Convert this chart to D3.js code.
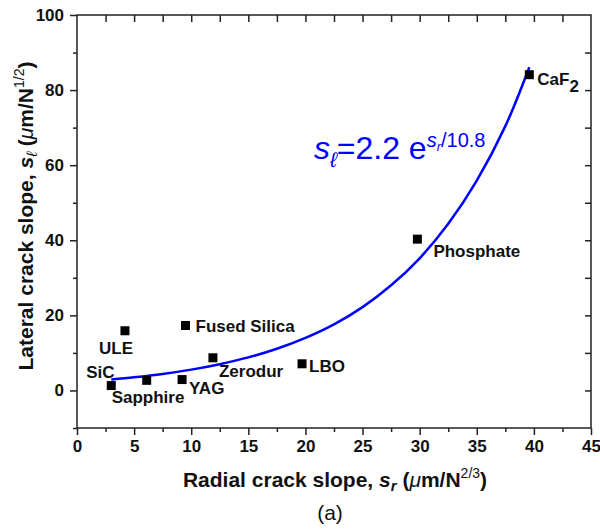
<!DOCTYPE html>
<html><head><meta charset="utf-8">
<script src="https://cdn.jsdelivr.net/npm/d3@7"></script>
<style>
body{margin:0;background:#fff;}
svg{font-family:"Liberation Sans",Arial,sans-serif;}
</style></head>
<body><div id="chart"></div>
<script>
// ---- data ----
const materials = ["SiC","Sapphire","YAG","ULE","Fused Silica","Zerodur","LBO","Phosphate","CaF2"];
const radialSlope = [3.0, 6.1, 9.2, 4.2, 9.5, 11.9, 19.7, 29.8, 39.6];
const lateralSlope = [1.3, 2.7, 2.9, 15.9, 17.3, 8.7, 7.1, 40.3, 84.1];
// fit curve points
const fitX = [3, 5, 7.5, 10, 12.5, 15, 17.5, 20, 22.5, 25, 27.5, 30, 32.5, 35, 37.5, 39.6];
const fitY = [2.9, 3.5, 4.4, 5.55, 7.0, 8.8, 11.1, 14.0, 17.6, 22.2, 28.0, 35.2, 44.4, 55.9, 70.4, 86.1];
const xTicks = [0,5,10,15,20,25,30,35,40,45];
const yTicks = [0,20,40,60,80,100];
// label placement (pixel offsets from point)
const labelDx = [-25,-35,7,-26,10,6,7,16,8];
const labelDy = [-8,23,14,23,6,19,8,18,10];

const W=600,H=530;
const m={l:77,t:15,r:9,b:102};
const pw=W-m.l-m.r, ph=H-m.t-m.b;
const svg=d3.select("#chart").append("svg").attr("width",W).attr("height",H);
const g=svg.append("g").attr("transform",`translate(${m.l},${m.t})`);
const x=d3.scaleLinear().domain([0,45]).range([0,pw]);
const y=d3.scaleLinear().domain([-10,100]).range([ph,0]);
const axCol="#222";

function styleAxis(sel){
  sel.select(".domain").remove();
  sel.selectAll("line").attr("stroke",axCol).attr("stroke-width",1.5);
}
const xMinor=d3.range(2.5,45,5), yMinor=[-10,10,30,50,70,90];
// bottom
g.append("g").attr("transform",`translate(0,${ph})`)
 .call(d3.axisBottom(x).tickValues(xMinor).tickSize(4).tickFormat(""))
 .call(styleAxis);
g.append("g").attr("transform",`translate(0,${ph})`)
 .call(d3.axisBottom(x).tickValues(xTicks).tickSize(7).tickPadding(5).tickFormat(d3.format("d")))
 .call(styleAxis)
 .selectAll("text").attr("font-size",17).attr("font-weight","bold").attr("fill","#111")
 .attr("font-family","'Liberation Sans',Arial,sans-serif");
// left
g.append("g")
 .call(d3.axisLeft(y).tickValues(yMinor).tickSize(4).tickFormat(""))
 .call(styleAxis);
g.append("g")
 .call(d3.axisLeft(y).tickValues(yTicks).tickSize(7).tickPadding(6).tickFormat(d3.format("d")))
 .call(styleAxis)
 .selectAll("text").attr("font-size",17).attr("font-weight","bold").attr("fill","#111")
 .attr("font-family","'Liberation Sans',Arial,sans-serif");
// top (inward)
g.append("g")
 .call(d3.axisBottom(x).tickValues(d3.range(2.5,45,2.5)).tickSize(7).tickFormat(""))
 .call(styleAxis);
// right (inward)
g.append("g").attr("transform",`translate(${pw},0)`)
 .call(d3.axisLeft(y).tickValues(d3.range(0,100,10)).tickSize(6).tickFormat(""))
 .call(styleAxis);
// frame
g.append("rect").attr("width",pw).attr("height",ph).attr("fill","none")
 .attr("stroke",axCol).attr("stroke-width",1.5);

// fit curve
const fitPts=fitX.map((v,i)=>[v,fitY[i]]);
g.append("path").datum(fitPts)
 .attr("d",d3.line().x(d=>x(d[0])).y(d=>y(d[1])).curve(d3.curveCatmullRom))
 .attr("fill","none").attr("stroke","#0000ff").attr("stroke-width",2.5);

// points
const pts=materials.map((n,i)=>({n,x:radialSlope[i],y:lateralSlope[i],dx:labelDx[i],dy:labelDy[i]}));
const sq=9;
g.selectAll("rect.pt").data(pts).enter().append("rect").attr("class","pt")
 .attr("x",d=>x(d.x)-sq/2).attr("y",d=>y(d.y)-sq/2).attr("width",sq).attr("height",sq).attr("fill","#000");
const lab=g.selectAll("text.lab").data(pts).enter().append("text").attr("class","lab")
 .attr("x",d=>x(d.x)+d.dx).attr("y",d=>y(d.y)+d.dy)
 .attr("font-size",17).attr("font-weight","bold").attr("fill","#111");
lab.each(function(d){
  const t=d3.select(this);
  if(d.n==="CaF2"){
    t.append("tspan").text("CaF");
    t.append("tspan").attr("dy",7).text("2");
  } else t.text(d.n);
});

// equation
const eq=svg.append("text").attr("x",314).attr("y",159).attr("fill","#0000ff").attr("font-size",32);
eq.append("tspan").attr("font-style","italic").text("s");
eq.append("tspan").attr("font-style","italic").attr("font-size",21).attr("dy",8).text("ℓ");
eq.append("tspan").attr("dy",-8).text("=2.2 e");
eq.append("tspan").attr("font-style","italic").attr("font-size",20).attr("dy",-12).text("s");
eq.append("tspan").attr("font-style","italic").attr("font-size",13).attr("dy",4).text("r");
eq.append("tspan").attr("font-size",20).attr("dy",-4).text("/10.8");

// x title
const xt=svg.append("text").attr("x",335).attr("y",487).attr("text-anchor","middle")
 .attr("font-size",21).attr("font-weight","bold").attr("fill","#111");
xt.append("tspan").text("Radial crack slope, ");
xt.append("tspan").attr("font-style","italic").text("s");
xt.append("tspan").attr("font-style","italic").attr("font-size",15).attr("dy",4).text("r");
xt.append("tspan").attr("dy",-4).text(" (");
xt.append("tspan").attr("font-style","italic").attr("font-weight","normal").text("μ");
xt.append("tspan").text("m/N");
xt.append("tspan").attr("font-size",14).attr("font-weight","normal").attr("dy",-9).text("2/3");
xt.append("tspan").attr("dy",9).text(")");

// y title
const yt=svg.append("text").attr("transform",`translate(33,216) rotate(-90)`).attr("text-anchor","middle")
 .attr("font-size",21).attr("font-weight","bold").attr("fill","#111");
yt.append("tspan").text("Lateral crack slope, ");
yt.append("tspan").attr("font-style","italic").text("s");
yt.append("tspan").attr("font-style","italic").attr("font-weight","normal").attr("font-size",15).attr("dy",4).text("ℓ");
yt.append("tspan").attr("dy",-4).text(" (");
yt.append("tspan").attr("font-style","italic").attr("font-weight","normal").text("μ");
yt.append("tspan").text("m/N");
yt.append("tspan").attr("font-size",14).attr("font-weight","normal").attr("dy",-9).text("1/2");
yt.append("tspan").attr("dy",9).text(")");

// caption
svg.append("text").attr("x",330).attr("y",520).attr("text-anchor","middle").attr("font-size",21).attr("fill","#111").text("(a)");
</script></body></html>
